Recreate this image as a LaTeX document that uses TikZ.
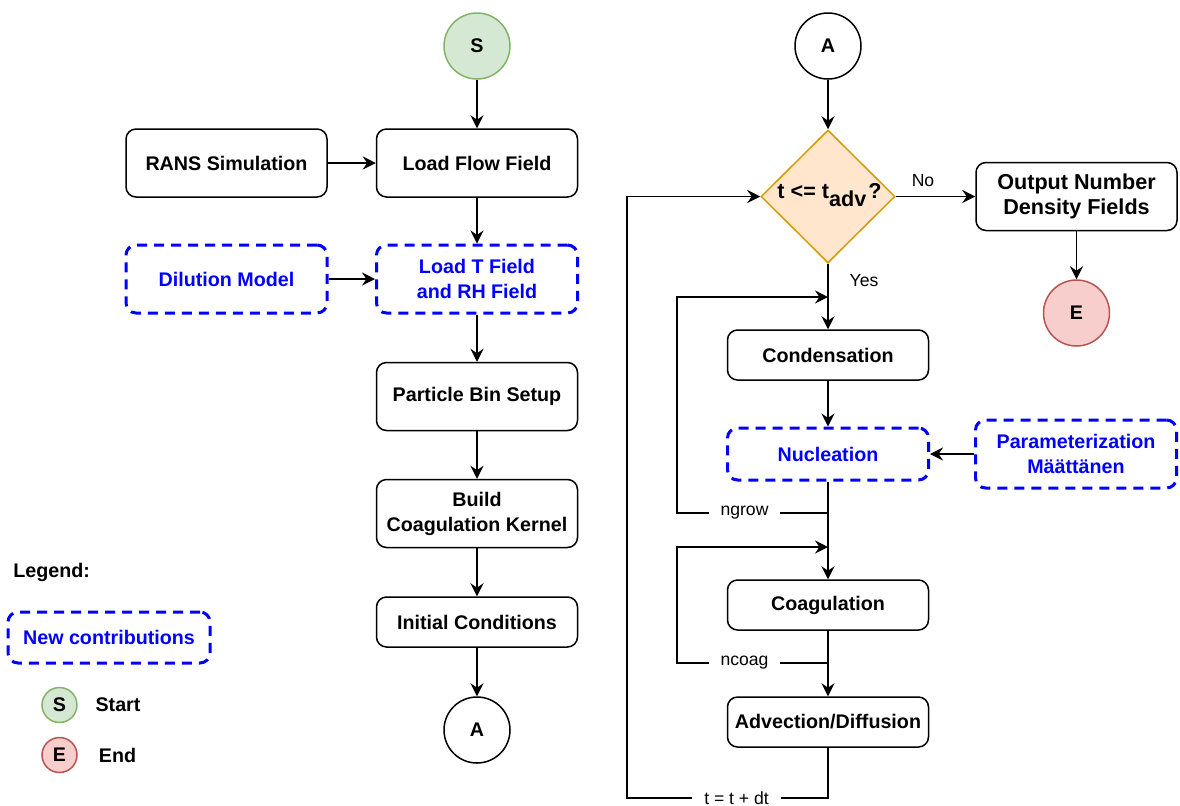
\documentclass[tikz,border=0pt]{standalone}
\usepackage{fontspec}
\setmainfont{Liberation Sans}
\usetikzlibrary{shapes.geometric,arrows.meta}
\definecolor{sgreen}{HTML}{D5E8D4}
\definecolor{sgreenb}{HTML}{82B366}
\definecolor{ered}{HTML}{F8CECC}
\definecolor{eredb}{HTML}{B85450}
\definecolor{dfill}{HTML}{FFE6CC}
\definecolor{dline}{HTML}{D79B00}
\definecolor{nblue}{HTML}{0000FF}
\tikzset{
  bfont/.style={font=\fontsize{9.85}{12.5}\selectfont\bfseries},
  bigfont/.style={font=\fontsize{10.8}{12.8}\selectfont\bfseries},
  box/.style={draw, line width=0.75pt, rounded corners=5pt, minimum width=100.5pt, minimum height=34pt, align=center, inner sep=2pt, bfont},
  sbox/.style={box, minimum height=25pt},
  newbox/.style={box, draw=nblue, text=nblue, dash pattern=on 5pt off 3.5pt, line width=1.5pt},
  circ/.style={circle, draw, line width=0.75pt, minimum size=33pt, inner sep=0pt, bfont},
  arr/.style={-{Stealth[length=6.5pt,width=6.5pt,inset=2.2pt]}, line width=0.75pt},
  lbl/.style={font=\fontsize{8.8}{10}\selectfont, fill=white, inner xsep=6pt, inner ysep=1pt},
  plainlbl/.style={font=\fontsize{8.8}{10}\selectfont},
}
\begin{document}
\begin{tikzpicture}[x=0.5pt,y=-0.5pt]
\useasboundingbox (0,0) rectangle (1180,805);
% left column
\node[circ, fill=sgreen, draw=sgreenb] (S) at (477,46) {S};
\node[box] (rans) at (226.5,163) {RANS Simulation};
\node[box] (flow) at (477,163) {Load Flow Field};
\node[newbox] (dil) at (226.5,279) {Dilution Model};
\node[newbox] (loadT) at (477,279) {Load T Field\\and RH Field};
\node[box] (bin) at (477,396.5) {Particle Bin Setup};
\node[box] (kern) at (477,513.5) {Build\\Coagulation Kernel};
\node[sbox] (init) at (477,622) {Initial Conditions};
\node[circ] (A1) at (477,730) {A};
% right column
\node[circ] (A2) at (828,46) {A};
\node[diamond, draw=dline, fill=dfill, line width=0.75pt, minimum width=67pt, minimum height=66.5pt, inner sep=0pt] (dia) at (828,196.5) {};
\node[bigfont] (diat) at (829.5,195) {t <= t\raisebox{-4pt}{adv}\kern1pt?};
\node[box, bigfont] (out) at (1076.5,196.5) {Output Number\\Density Fields};
\node[circ, fill=ered, draw=eredb] (E) at (1076.5,313) {E};
\node[sbox] (cond) at (828,355) {Condensation};
\node[newbox, minimum height=26pt] (nuc) at (828,454) {Nucleation};
\node[newbox] (par) at (1076,454) {Parameterization\\Määttänen};
\node[sbox] (coag) at (828,605) {Coagulation};
\node[sbox] (adv) at (828,722) {Advection/Diffusion};
% legend
\node[bfont, anchor=west, inner sep=0pt] (leg) at (13,572) {Legend:};
\node[newbox, minimum width=101pt, minimum height=25.5pt] (newc) at (109,637.5) {New contributions};
\node[circ, minimum size=17.5pt, fill=sgreen, draw=sgreenb] (lS) at (59.5,705) {S};
\node[bfont] (lSt) at (118,705) {Start};
\node[circ, minimum size=17.5pt, fill=ered, draw=eredb] (lE) at (59.5,755) {E};
\node[bfont] (lEt) at (117.5,755) {End};
% connectors left
\draw[arr] (S) -- (flow);
\draw[arr] (rans) -- (flow);
\draw[arr] (flow) -- (loadT);
\draw[arr] (dil) -- (loadT);
\draw[arr] (loadT) -- (bin);
\draw[arr] (bin) -- (kern);
\draw[arr] (kern) -- (init);
\draw[arr] (init) -- (A1);
% connectors right
\draw[arr] (A2) -- (dia);
\draw[arr] (dia.east) -- (out.west |- dia.east);
\node[plainlbl] (no) at (923,181) {No};
\draw[arr] (out) -- (E);
\draw[arr] (dia.south) -- (cond.north);
\node[plainlbl] (yes) at (864,281) {Yes};
\draw[arr] (cond) -- (nuc);
\draw[arr] (par) -- (nuc);
\draw[arr] (nuc) -- (coag);
\draw[arr] (coag) -- (adv);
% loops
\coordinate (gS) at (828,513);
\coordinate (gE) at (828,297);
\draw[arr] (gS) -- node[lbl,pos=0.553]{ngrow} ++(-151,0) |- (gE);
\coordinate (cS) at (828,663);
\coordinate (cE) at (828,547);
\draw[arr] (cS) -- node[lbl,pos=0.553]{ncoag} ++(-151,0) |- (cE);
\draw[arr] (adv.south) -- ++(0,50) -- node[lbl,pos=0.455]{t = t + dt} ++(-201,0) |- (dia.west);
\end{tikzpicture}
\end{document}
